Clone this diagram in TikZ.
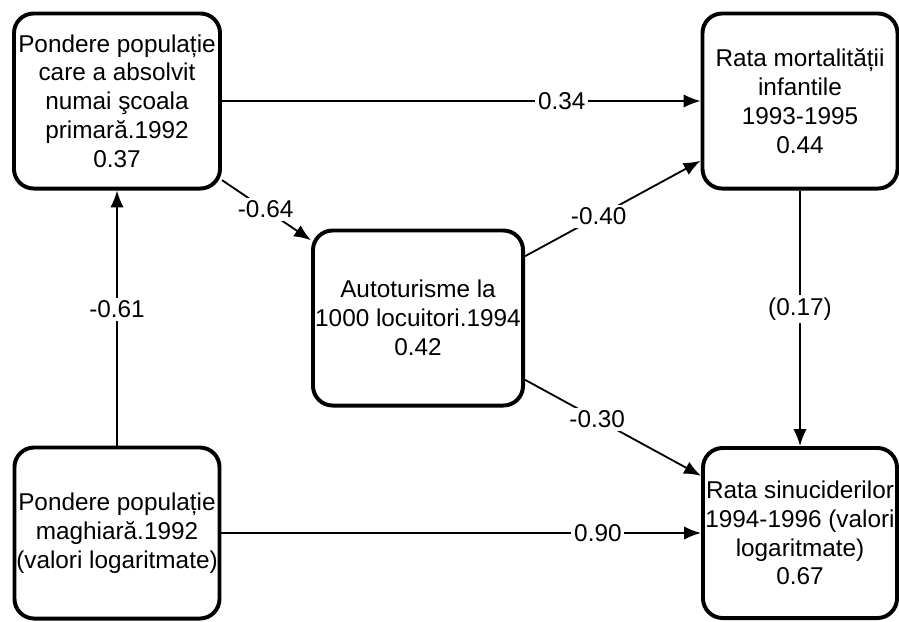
\documentclass[tikz,border=0pt]{standalone}
\usepackage{fontspec}
\setmainfont{Liberation Sans}
\usepackage{tikz}
\usetikzlibrary{positioning, arrows.meta}

\begin{document}
\begin{tikzpicture}[
  x=0.025cm, y=-0.025cm,
  box/.style 2 args={draw, line width=2.8pt, rounded corners=14pt,
    minimum width=#1, minimum height=#2, inner sep=0pt, align=center,
    font=\fontsize{17.3}{20.5}\selectfont},
  conn/.style={-{Latex[length=12pt, width=9.5pt]}, line width=1.3pt},
  coef/.style={fill=white, inner sep=2pt, font=\fontsize{17.3}{20.5}\selectfont}
]

\useasboundingbox (0,0) rectangle (899,621);

% scoala primara (stanga sus)
\node[box={5.15cm}{4.375cm}] (prim) at (117,101)
  {Pondere populație\\care a absolvit\\numai şcoala\\primară.1992\\0.37};

% mortalitate infantila (dreapta sus)
\node[box={4.875cm}{4.375cm}] (mort) at (800,101)
  {Rata mortalității\\infantile\\1993-1995\\0.44};

% autoturisme (centru)
\node[box={5.25cm}{4.375cm}] (auto) at (418,318)
  {Autoturisme la\\1000 locuitori.1994\\0.42};

% populatie maghiara (stanga jos)
\node[box={5.125cm}{4.275cm}] (magh) at (117,533)
  {Pondere populație\\maghiară.1992\\(valori logaritmate)};

% sinucideri (dreapta jos)
\node[box={4.85cm}{4.25cm}] (sinuc) at (800,533)
  {Rata sinuciderilor\\1994-1996 (valori\\logaritmate)\\0.67};

% coeficienti
\draw[conn] (prim) -- node[coef, pos=0.71] {0.34} (mort);
\draw[conn] (prim.-37) -- node[coef, pos=0.49] {-0.64} (auto.144);
\draw[conn] (auto.30) -- node[coef, pos=0.42] {-0.40} (mort.211);
\draw[conn] (auto.-30) -- node[coef, pos=0.41] {-0.30} (sinuc.150);
\draw[conn] (magh) -- node[coef, pos=0.535] {-0.61} (prim);
\draw[conn] (mort) -- node[coef, pos=0.465] {(0.17)} (sinuc);
\draw[conn] (magh) -- node[coef, pos=0.785] {0.90} (sinuc);

\end{tikzpicture}
\end{document}
